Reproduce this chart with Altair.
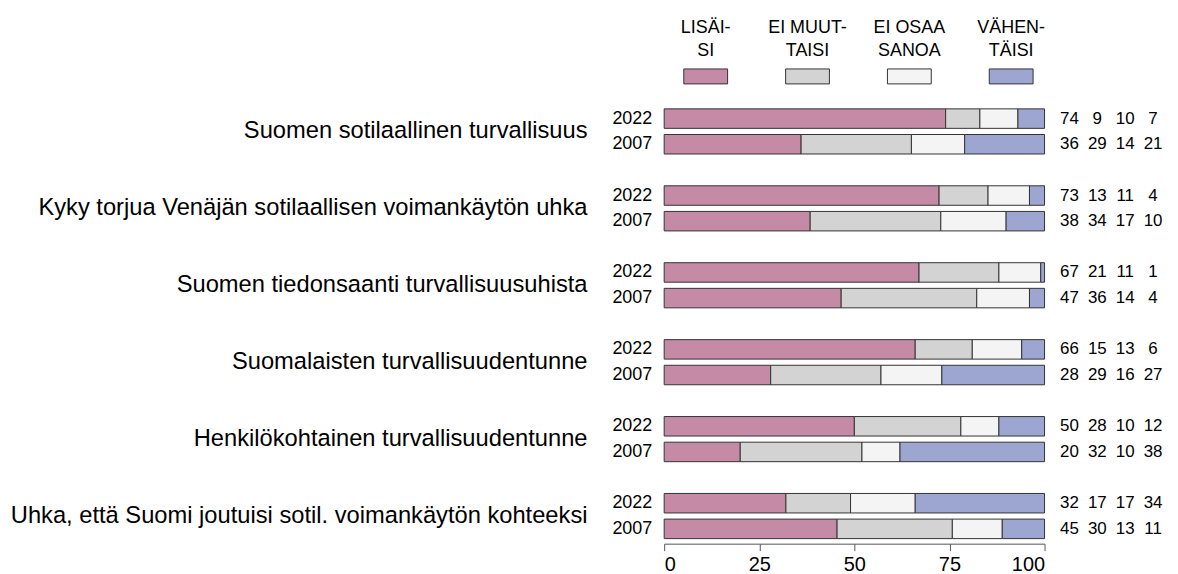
import altair as alt
import pandas as pd

categories = ["LISÄISI", "EI MUUTTAISI", "EI OSAA SANOA", "VÄHENTÄISI"]
legend_labels = ["LISÄI-\nSI", "EI MUUT-\nTAISI", "EI OSAA\nSANOA", "VÄHEN-\nTÄISI"]
colors = ["#C48AA6", "#D3D3D3", "#F4F4F4", "#9CA6D1"]
topics = [
    "Suomen sotilaallinen turvallisuus",
    "Kyky torjua Venäjän sotilaallisen voimankäytön uhka",
    "Suomen tiedonsaanti turvallisuusuhista",
    "Suomalaisten turvallisuudentunne",
    "Henkilökohtainen turvallisuudentunne",
    "Uhka, että Suomi joutuisi sotil. voimankäytön kohteeksi",
]
years = ["2022", "2007"]
values_2022 = [
    [74, 9, 10, 7],
    [73, 13, 11, 4],
    [67, 21, 11, 1],
    [66, 15, 13, 6],
    [50, 28, 10, 12],
    [32, 17, 17, 34],
]
values_2007 = [
    [36, 29, 14, 21],
    [38, 34, 17, 10],
    [47, 36, 14, 4],
    [28, 29, 16, 27],
    [20, 32, 10, 38],
    [45, 30, 13, 11],
]
x_ticks = [0, 25, 50, 75, 100]

rows = []
y_domain = []
label_rows = []
year_rows = []
for i, topic in enumerate(topics):
    label_rows.append({"key": f"{i}|{years[0]}", "topic": topic})
    for year, vals in zip(years, [values_2022[i], values_2007[i]]):
        key = f"{i}|{year}"
        y_domain.append(key)
        year_rows.append({"key": key, "year": year})
        total = sum(vals)
        for j, (cat, v) in enumerate(zip(categories, vals)):
            rows.append({"key": key, "cat": cat, "order": j, "value": v,
                         "pct": v / total * 100})
    if i < len(topics) - 1:
        y_domain.append(f"{i}|gap")

df = pd.DataFrame(rows)
lab_df = pd.DataFrame(label_rows)
year_df = pd.DataFrame(year_rows)
leg_df = pd.DataFrame({"cat": categories, "label": legend_labels})

FONT = "Liberation Sans"
EDGE = "#333333"

y_scale = alt.Scale(domain=y_domain, paddingInner=0.24, paddingOuter=0.12)
color_scale = alt.Scale(domain=categories, range=colors)
legend_x = alt.Scale(type="point", domain=categories, range=[41.7, 348.5], padding=0)

bars = alt.Chart(df).mark_bar(stroke=EDGE, strokeWidth=1).encode(
    x=alt.X("pct:Q", stack="zero",
            scale=alt.Scale(domain=[0, 100], nice=False),
            axis=alt.Axis(values=x_ticks, title=None, tickSize=7, labelFontSize=20,
                          labelPadding=4, domainColor="#555555", tickColor="#555555",
                          grid=False, labelColor="black", format="d", offset=2)),
    y=alt.Y("key:N", scale=y_scale, axis=None),
    color=alt.Color("cat:N", scale=color_scale, legend=None),
    order=alt.Order("order:Q"),
)

year_labels = alt.Chart(year_df).mark_text(align="right", baseline="middle", fontSize=18,
                                           color="black").encode(
    x=alt.value(-12),
    y=alt.Y("key:N", scale=y_scale, axis=None),
    text=alt.Text("year:N"),
)

numbers = alt.Chart(df).mark_text(align="center", baseline="middle", fontSize=17,
                                  color="black").encode(
    x=alt.X("cat:N", scale=alt.Scale(type="point", domain=categories, range=[407, 491], padding=0),
            axis=None),
    y=alt.Y("key:N", scale=y_scale, axis=None),
    text=alt.Text("value:Q"),
)

cat_labels = alt.Chart(lab_df).mark_text(align="right", baseline="middle", fontSize=23.8,
                                         dy=12.875, color="black").encode(
    x=alt.value(-77),
    y=alt.Y("key:N", scale=y_scale, axis=None),
    text=alt.Text("topic:N"),
)

swatches = alt.Chart(leg_df).mark_point(
    shape="M-1,-0.341L1,-0.341L1,0.341L-1,0.341Z", size=1936, filled=True,
    opacity=1, stroke=EDGE, strokeWidth=1).encode(
    x=alt.X("cat:N", scale=legend_x, axis=None),
    y=alt.value(-29.5),
    color=alt.Color("cat:N", scale=color_scale, legend=None),
)

legend_text = alt.Chart(leg_df).mark_text(
    lineBreak="\n", align="center", baseline="alphabetic", fontSize=18,
    lineHeight=23, color="black").encode(
    x=alt.X("cat:N", scale=legend_x, axis=None),
    y=alt.value(-73.5),
    text=alt.Text("label:N"),
)

chart = alt.layer(bars, year_labels, numbers, cat_labels, swatches, legend_text).resolve_scale(
    x="independent"
).properties(
    width=382,
    height=437.75,
    autosize=alt.AutoSizeParams(type="none"),
    padding={"left": 659, "top": 97, "right": 126, "bottom": 31},
).configure(font=FONT).configure_view(stroke=None)

chart.save("out.html", embed_options={"renderer": "svg", "actions": False})
